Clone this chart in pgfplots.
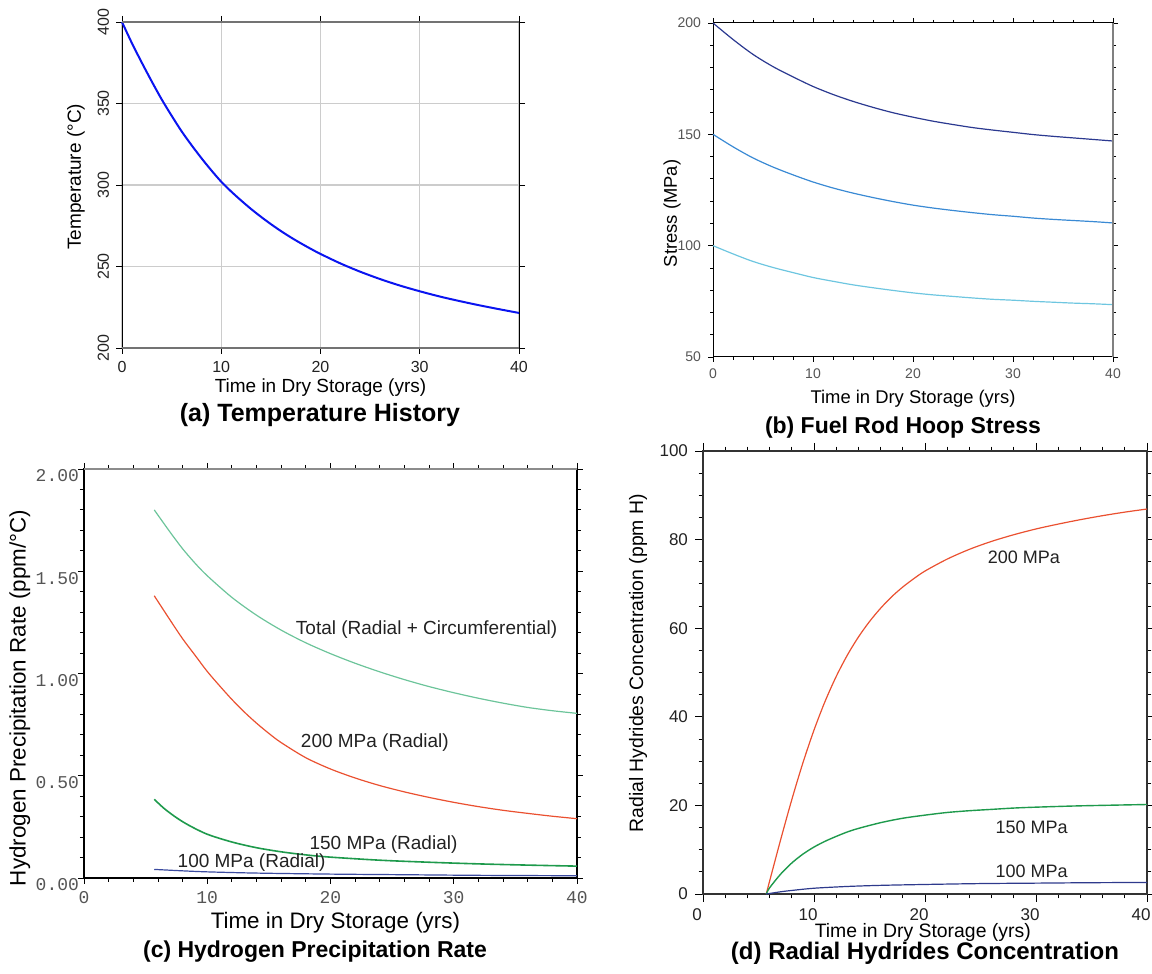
\documentclass[border=0pt]{standalone}
\usepackage{pgfplots}
\pgfplotsset{compat=1.18}
\usepackage{fontspec}
\setmainfont{Liberation Sans}
\newfontfamily\monofont{Liberation Mono}
\definecolor{cTemp}{HTML}{0A14F0}
\definecolor{sNavy}{HTML}{2B3990}
\definecolor{sMid}{HTML}{3A8AD4}
\definecolor{sLight}{HTML}{6EC6E0}
\definecolor{cTotal}{HTML}{6CC49A}
\definecolor{cRed}{HTML}{EA5030}
\definecolor{cGreen}{HTML}{1E9A4C}
\definecolor{cBlue}{HTML}{3B4BA0}
\definecolor{dNavy}{HTML}{2E3A8C}
\definecolor{txt}{HTML}{222222}
\definecolor{tgray}{HTML}{555555}
\begin{document}
\begin{tikzpicture}
\useasboundingbox (0,0) rectangle (576pt,487pt);

% ---------------- (a) ----------------
\begin{axis}[at={(61pt,313pt)}, anchor=south west, width=198.5pt, height=163pt, scale only axis,
  xmin=0, xmax=40, ymin=200, ymax=400,
  xtick={0,10,20,30,40}, ytick={200,250,300,350,400},
  grid=major, major grid style={black!20, line width=0.6pt},
  tick align=outside, major tick length=3pt, tick style={black, line width=0.4pt},
  axis line style={black, line width=0.5pt},
  /pgf/number format/assume math mode=true,
  tick label style={font=\fontsize{8}{9}\selectfont, text=txt},
  yticklabel style={rotate=90, anchor=south},
  xlabel={Time in Dry Storage (yrs)}, ylabel={Temperature (°C)},
  label style={font=\fontsize{9.5}{11}\selectfont},
  xlabel style={at={(axis description cs:0.5,-0.1227)}, anchor=center},
  ylabel style={at={(axis description cs:-0.116,0.525)}, anchor=center},
  clip=false]
\addplot[cTemp, line width=1pt, smooth] coordinates {
(0,400) (1,387) (2,375) (3,363.5) (4,352.5) (5,342.5) (6,333) (7,324.5) (8,316.5) (9,309)
(10,302) (11,296) (12,290.5) (13,285.3) (14,280.5) (15,276) (16,271.8) (17,267.9) (18,264.3) (19,260.9)
(20,257.7) (22,251.9) (24,246.8) (26,242.3) (28,238.3) (30,234.8) (32,231.6) (34,228.8) (36,226.2) (38,223.8) (40,221.5)};
\draw[black!55, line width=1.2pt] (rel axis cs:0,1) -- (rel axis cs:1,1);
\draw[black!55, line width=1.2pt] (rel axis cs:0,0) -- (rel axis cs:1,0);
\end{axis}
\node[font=\bfseries\fontsize{12.5}{14}\selectfont] at (160pt,279.5pt) {(a) Temperature History};

% ---------------- (b) ----------------
\begin{axis}[at={(356.5pt,308.5pt)}, anchor=south west, width=200pt, height=167pt, scale only axis,
  xmin=0, xmax=40, ymin=50, ymax=200,
  xtick={0,10,20,30,40}, ytick={50,100,150,200},
  minor x tick num=4, minor y tick num=4,
  tick align=outside, major tick length=2.5pt, minor tick length=1.5pt,
  tick style={black, line width=0.4pt},
  axis line style={black, line width=0.5pt},
  /pgf/number format/assume math mode=true,
  tick label style={font=\fontsize{7}{8}\selectfont, text=tgray},
  xlabel={Time in Dry Storage (yrs)}, ylabel={Stress (MPa)},
  label style={font=\fontsize{9.2}{11}\selectfont},
  xlabel style={at={(axis description cs:0.5,-0.124)}, anchor=center},
  ylabel style={at={(axis description cs:-0.1025,0.43)}, anchor=center},
  clip=false]
\addplot[sNavy, line width=0.6pt, smooth] coordinates {
(0,200) (2,192.6) (4,185.9) (6,180.4) (8,175.8) (10,171.5) (12,167.9) (14,164.8) (16,162.1)
(18,159.7) (20,157.7) (22,155.9) (24,154.4) (26,153.0) (28,151.9) (30,150.9) (32,149.9)
(34,149.1) (36,148.4) (38,147.7) (40,147.0)};
\addplot[sMid, line width=0.6pt, smooth] coordinates {
(0,150) (2,144.4) (4,139.4) (6,135.3) (8,131.8) (10,128.6) (12,125.9) (14,123.6) (16,121.6)
(18,119.8) (20,118.2) (22,116.9) (24,115.8) (26,114.8) (28,113.9) (30,113.2) (32,112.4)
(34,111.8) (36,111.3) (38,110.8) (40,110.2)};
\addplot[sLight, line width=0.6pt, smooth] coordinates {
(0,100) (2,96.3) (4,92.9) (6,90.2) (8,87.9) (10,85.7) (12,84.0) (14,82.4) (16,81.1)
(18,79.9) (20,78.8) (22,77.9) (24,77.2) (26,76.5) (28,75.9) (30,75.5) (32,75.0)
(34,74.6) (36,74.2) (38,73.9) (40,73.5)};
\draw[black!50, line width=1pt] (rel axis cs:1,0) -- (rel axis cs:1,1);
\end{axis}
\node[font=\bfseries\fontsize{11.5}{13}\selectfont] at (451.5pt,273pt) {(b) Fuel Rod Hoop Stress};

% ---------------- (c) ----------------
\begin{axis}[at={(42pt,48pt)}, anchor=south west, width=246.5pt, height=204.5pt, scale only axis,
  xmin=0, xmax=40, ymin=0, ymax=2,
  xtick={0,10,20,30,40}, ytick={0,0.5,1,1.5,2},
  minor x tick num=4, minor y tick num=4,
  tick align=outside, major tick length=3pt, minor tick length=2pt,
  tick style={black, line width=0.4pt},
  axis line style={black, line width=0.6pt},
  /pgf/number format/assume math mode=true,
  y tick label style={/pgf/number format/fixed, /pgf/number format/fixed zerofill, /pgf/number format/precision=2},
  tick label style={font=\fontsize{9}{10}\monofont, text=tgray},
  yticklabel style={anchor=east, xshift=4pt, yshift=-3.5pt},
  xlabel={Time in Dry Storage (yrs)}, ylabel={Hydrogen Precipitation Rate (ppm/°C)},
  label style={font=\fontsize{11.2}{13}\selectfont},
  xlabel style={at={(axis description cs:0.51,-0.110)}, anchor=center},
  ylabel style={at={(axis description cs:-0.13,0.44)}, anchor=center},
  clip=false]
\addplot[cTotal, line width=0.6pt, smooth] coordinates {
(5.7,1.80) (7,1.69) (8,1.61) (9,1.54) (10,1.478) (12,1.372) (14,1.285) (16,1.212) (18,1.150)
(20,1.097) (22,1.050) (24,1.008) (26,0.970) (28,0.936) (30,0.906) (32,0.879) (34,0.855)
(36,0.834) (38,0.818) (40,0.805)};
\addplot[cRed, line width=0.6pt, smooth] coordinates {
(5.7,1.38) (7,1.26) (8,1.17) (9,1.09) (10,1.01) (11,0.94) (12,0.873) (13,0.812) (14,0.757) (15,0.707)
(16,0.662) (18,0.588) (20,0.533) (22,0.489) (24,0.452) (26,0.421) (28,0.394) (30,0.370)
(32,0.349) (34,0.331) (36,0.316) (38,0.302) (40,0.290)};
\addplot[cGreen, line width=0.8pt, smooth] coordinates {
(5.7,0.385) (6.5,0.34) (7.5,0.295) (8.5,0.258) (10,0.214) (12,0.176) (14,0.148) (16,0.128)
(18,0.113) (20,0.102) (24,0.087) (28,0.077) (32,0.069) (36,0.063) (40,0.058)};
\addplot[cBlue, line width=0.6pt, smooth] coordinates {
(5.7,0.042) (8,0.035) (10,0.030) (14,0.024) (20,0.019) (26,0.016) (32,0.013) (40,0.011)};
\draw[black!45, line width=1pt] (rel axis cs:0,1) -- (rel axis cs:1,1);
\node[font=\fontsize{9.5}{11}\selectfont, text=txt] at (axis cs:27.8,1.213) {Total (Radial + Circumferential)};
\node[font=\fontsize{9.5}{11}\selectfont, text=txt] at (axis cs:23.6,0.662) {200 MPa (Radial)};
\node[font=\fontsize{9.5}{11}\selectfont, text=txt] at (axis cs:24.3,0.162) {150 MPa (Radial)};
\node[font=\fontsize{9.5}{11}\selectfont, text=txt] at (axis cs:13.6,0.073) {100 MPa (Radial)};
\end{axis}
\node[font=\bfseries\fontsize{11.5}{13}\selectfont] at (157.5pt,11pt) {(c) Hydrogen Precipitation Rate};

% ---------------- (d) ----------------
\begin{axis}[at={(351.5pt,40pt)}, anchor=south west, width=222pt, height=221.5pt, scale only axis,
  xmin=0, xmax=40, ymin=0, ymax=100,
  xtick={0,10,20,30,40}, ytick={0,20,40,60,80,100},
  minor x tick num=4, minor y tick num=3,
  tick align=outside, major tick length=4pt, minor tick length=2.2pt,
  tick style={black, line width=0.4pt},
  axis line style={black!80, line width=0.6pt},
  /pgf/number format/assume math mode=true,
  tick label style={font=\fontsize{8.5}{10}\selectfont, text=txt},
  xticklabel style={xshift=-3pt},
  xlabel={Time in Dry Storage (yrs)}, ylabel={Radial Hydrides Concentration (ppm H)},
  label style={font=\fontsize{9.7}{11}\selectfont},
  xlabel style={at={(axis description cs:0.495,-0.0858)}, anchor=center},
  ylabel style={at={(axis description cs:-0.146,0.521)}, anchor=center},
  clip=false]
\addplot[cRed, line width=0.6pt, smooth] coordinates {
(5.7,0) (6,2.9) (7,12.3) (8,21.3) (9,29.6) (10,37.0) (11,43.5) (12,49.1) (13,53.9) (14,58.0)
(15,61.5) (16,64.5) (17,67.1) (18,69.3) (19,71.2) (20,72.9) (22,75.6) (24,77.8) (26,79.6)
(28,81.1) (30,82.4) (32,83.5) (34,84.5) (36,85.4) (38,86.2) (40,86.9)};
\addplot[cGreen, line width=0.7pt, smooth] coordinates {
(5.7,0) (6,1.4) (7,4.5) (8,7.0) (9,9.0) (10,10.6) (11,11.9) (12,13.0) (13,14.0) (14,14.8)
(16,16.1) (18,17.1) (20,17.8) (22,18.4) (24,18.8) (26,19.1) (28,19.4) (30,19.6) (34,19.9) (40,20.2)};
\addplot[dNavy, line width=0.6pt, smooth] coordinates {
(5.7,0) (7,0.5) (8,0.8) (10,1.3) (13,1.7) (16,1.95) (20,2.15) (25,2.35) (30,2.45) (35,2.55) (40,2.6)};
\node[font=\fontsize{9}{11}\selectfont, text=txt] at (axis cs:28.9,76) {200 MPa};
\node[font=\fontsize{9}{11}\selectfont, text=txt] at (axis cs:29.6,15.1) {150 MPa};
\node[font=\fontsize{9}{11}\selectfont, text=txt] at (axis cs:29.6,5.1) {100 MPa};
\end{axis}
\node[font=\bfseries\fontsize{12}{14}\selectfont] at (462.5pt,10.5pt) {(d) Radial Hydrides Concentration};
\end{tikzpicture}
\end{document}
